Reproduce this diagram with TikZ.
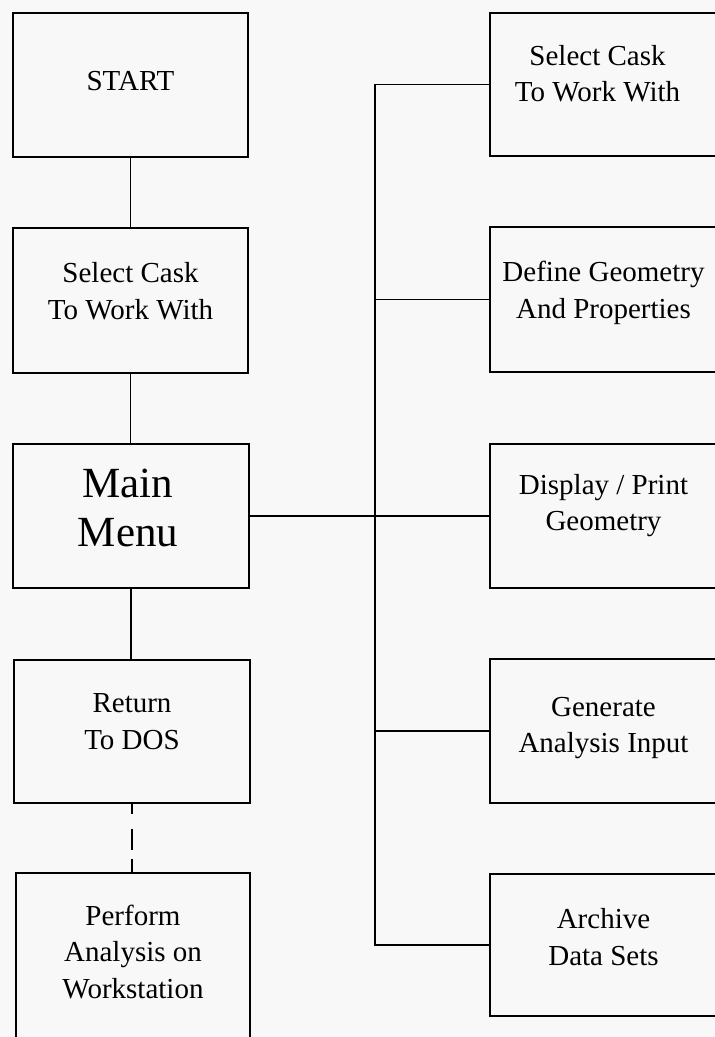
\documentclass[tikz,border=0pt]{standalone}
\usepackage{fontspec}
\setmainfont{Liberation Serif}
\definecolor{paper}{HTML}{F8F8F8}
\begin{document}
\begin{tikzpicture}[x=1pt,y=-1pt,line width=1.5pt,
  box/.style={draw,rectangle,inner sep=0pt},
  lbox/.style={box,minimum width=235pt},
  rbox/.style={box,minimum width=227pt},
  txt/.style={align=center,inner sep=0pt,font=\fontsize{29}{36.5}\selectfont},
  bigtxt/.style={align=center,inner sep=0pt,font=\fontsize{43}{49}\selectfont},
  link/.style={line width=1.5pt},
  dashlink/.style={line width=1.5pt,dash pattern=on 10pt off 15pt on 21pt off 9pt on 15pt}]
\fill[paper] (0,0) rectangle (715,1037);
\useasboundingbox (0,0) rectangle (715,1037);

% left column
\node[lbox,minimum height=144pt] (start) at (130.5,85) {};
\node[lbox,minimum height=145pt] (sell) at (130.5,300.5) {};
\node[lbox,minimum width=236pt,minimum height=144pt] (main) at (131,516) {};
\node[lbox,minimum width=236pt,minimum height=143pt] (ret) at (132,731.5) {};
\node[lbox,minimum width=234pt,minimum height=174pt] (perf) at (133,960) {};

% right column
\node[rbox,minimum height=143pt] (r1) at (603.5,84.5) {};
\node[rbox,minimum height=145pt] (r2) at (603.5,299.5) {};
\node[rbox,minimum height=144pt] (r3) at (603.5,516) {};
\node[rbox,minimum height=144pt] (r4) at (603.5,731) {};
\node[rbox,minimum height=142pt] (r5) at (603.5,945) {};

% texts
\node[txt] (tstart) at ([yshift=4pt]start.center) {START};
\node[txt] (tsell) at ([yshift=9.5pt]sell.center) {Select Cask\\To Work With};
\node[bigtxt] (tmain) at ([xshift=-3pt,yshift=8pt]main.center) {Main\\Menu};
\node[txt] (tret) at ([yshift=10pt]ret.center) {Return\\To DOS};
\node[txt] (tperf) at ([yshift=8.5pt]perf.center) {Perform\\Analysis on\\Workstation};
\node[txt] (tr1) at ([xshift=-6pt,yshift=11pt]r1.center) {Select Cask\\To Work With};
\node[txt] (tr2) at ([yshift=6.5pt]r2.center) {Define Geometry\\And Properties};
\node[txt] (tr3) at ([yshift=10.5pt]r3.center) {Display / Print\\Geometry};
\node[txt] (tr4) at ([yshift=3pt]r4.center) {Generate\\Analysis Input};
\node[txt] (tr5) at ([yshift=8pt]r5.center) {Archive\\Data Sets};

% left connectors
\draw[link] (start.south) -- (start.south |- sell.north);
\draw[link] (sell.south) -- (sell.south |- main.north);
\draw[link] (main.south) -- (main.south |- ret.north);
\draw[dashlink] (ret.south) -- (ret.south |- perf.north);

% bus
\coordinate (bustop) at (375,84.5);
\coordinate (busbot) at (375,945);
\draw[link] (r1.west) -- (bustop) -- (busbot) -- (r5.west);
\draw[link] (r2.west) -- (r2.west -| bustop);
\draw[link] (r4.west) -- (r4.west -| bustop);
\draw[link] (main.east) -- (r3.west);
\end{tikzpicture}
\end{document}
